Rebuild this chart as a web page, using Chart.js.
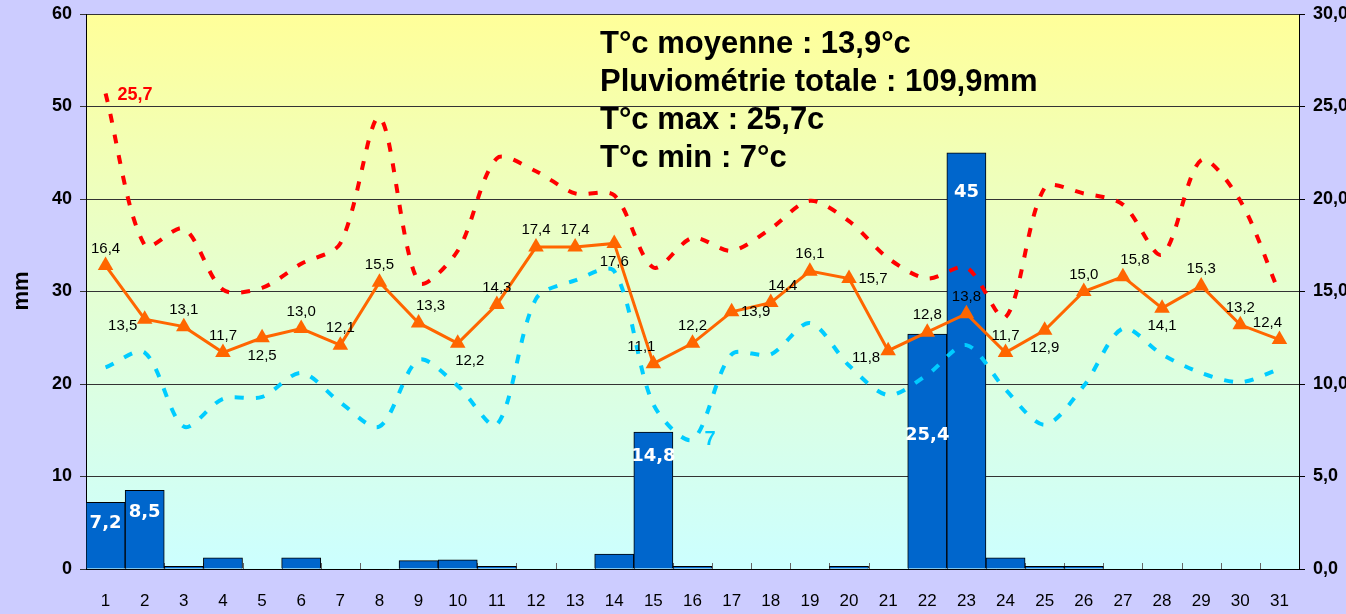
<!DOCTYPE html>
<html>
<head>
<meta charset="utf-8">
<script src="https://cdn.jsdelivr.net/npm/chart.js@4.4.0/dist/chart.umd.min.js"></script>
<style>
  html, body { margin: 0; padding: 0; background: #ccccff; overflow: hidden; }
  #wrap { position: absolute; left: 0; top: 0; width: 1400px; height: 614px; }
</style>
</head>
<body>
<div id="wrap"><canvas id="meteo" width="1400" height="614"></canvas></div>
<script>
// Données du mois
const jours = ['1','2','3','4','5','6','7','8','9','10','11','12','13','14','15','16','17','18','19','20','21','22','23','24','25','26','27','28','29','30','31'];
const pluie = [7.2, 8.5, 0.3, 1.2, 0, 1.2, 0, 0, 0.9, 1.0, 0.3, 0, 0, 1.6, 14.8, 0.3, 0, 0, 0, 0.3, 0, 25.4, 45, 1.2, 0.3, 0.3, 0, 0, 0, 0, 0];
const tMoy = [16.4, 13.5, 13.1, 11.7, 12.5, 13.0, 12.1, 15.5, 13.3, 12.2, 14.3, 17.4, 17.4, 17.6, 11.1, 12.2, 13.9, 14.4, 16.1, 15.7, 11.8, 12.8, 13.8, 11.7, 12.9, 15.0, 15.8, 14.1, 15.3, 13.2, 12.4];
const tMax = [25.7, 17.5, 18.4, 15.1, 15.2, 16.5, 17.6, 24.4, 15.5, 17.2, 22.2, 21.5, 20.3, 20.2, 16.3, 17.9, 17.2, 18.4, 19.9, 18.8, 16.8, 15.7, 16.3, 13.6, 20.6, 20.3, 19.7, 17.0, 22.1, 19.9, 14.9];
const tMin = [10.9, 11.7, 7.7, 9.2, 9.3, 10.6, 9.0, 7.7, 11.3, 9.9, 7.8, 14.6, 15.6, 16.1, 8.9, 7.0, 11.6, 11.6, 13.3, 11.0, 9.4, 10.5, 12.1, 9.7, 7.8, 9.9, 13.0, 11.6, 10.6, 10.1, 10.8];
const ticksMm = [0, 10, 20, 30, 40, 50, 60];
const ticksTemp = [0, 5, 10, 15, 20, 25, 30];
const resume = ['T°c moyenne : 13,9°c', 'Pluviométrie totale : 109,9mm', 'T°c max : 25,7c', 'T°c min : 7°c'];

// position des étiquettes de la moyenne (a=dessus, b=dessous, l=gauche, r=droite)
const placeMoy = ['a','l','a','a','b','a','a','a','ar','br','a','a','a','b','al','a','r','ar','a','r','l','a','a','a','b','a','ar','b','a','a','al'];
// descente des étiquettes de pluie sous le haut de la barre
const descentePluie = { 0: 21, 1: 22, 14: 24, 21: 101, 22: 40 };

const fr = v => v.toFixed(1).replace('.', ',');

const fondPlugin = {
    id: 'fond',
    beforeDraw(chart) {
        const { ctx, chartArea: a } = chart;
        const g = ctx.createLinearGradient(0, a.top, 0, a.bottom);
        g.addColorStop(0, '#ffff99');
        g.addColorStop(0.5, '#e4ffd2');
        g.addColorStop(1, '#ccffff');
        ctx.save();
        ctx.fillStyle = g;
        ctx.fillRect(a.left, a.top, a.right - a.left, a.bottom - a.top);
        ctx.restore();
    },
    beforeDatasetsDraw(chart) {
        // petits traits entre les jours
        const { ctx, chartArea: a, scales } = chart;
        ctx.save();
        ctx.strokeStyle = '#666';
        ctx.lineWidth = 1;
        for (let i = 1; i < jours.length; i++) {
            const x = Math.round((scales.x.getPixelForValue(i - 1) + scales.x.getPixelForValue(i)) / 2) + 0.5;
            ctx.beginPath();
            ctx.moveTo(x, a.bottom);
            ctx.lineTo(x, a.bottom - 6);
            ctx.stroke();
        }
        ctx.restore();
    }
};

const textePlugin = {
    id: 'textes',
    afterDraw(chart) {
        const ctx = chart.ctx;
        ctx.save();
        // titre axe gauche
        ctx.translate(22, 291);
        ctx.rotate(-Math.PI / 2);
        ctx.font = 'bold 22px "Liberation Sans", Arial';
        ctx.fillStyle = '#000';
        ctx.textAlign = 'center';
        ctx.textBaseline = 'middle';
        ctx.fillText('mm', 0, 0);
        ctx.restore();

        // étiquettes des barres
        ctx.save();
        const barres = chart.getDatasetMeta(0).data;
        ctx.font = 'bold 18px "DejaVu Sans"';
        ctx.fillStyle = '#fff';
        ctx.textAlign = 'center';
        ctx.textBaseline = 'middle';
        pluie.forEach((v, i) => {
            if (v < 5) return;
            const b = barres[i];
            const txt = Number.isInteger(v) ? String(v) : fr(v);
            ctx.fillText(txt, b.x, b.y + (descentePluie[i] || 22));
        });
        ctx.restore();

        // étiquettes de la moyenne
        ctx.save();
        const pts = chart.getDatasetMeta(1).data;
        ctx.font = '15px "Liberation Sans", Arial';
        ctx.fillStyle = '#000';
        ctx.textAlign = 'center';
        ctx.textBaseline = 'middle';
        tMoy.forEach((v, i) => {
            const p = pts[i];
            let dx = 0, dy = 0;
            const c = placeMoy[i];
            if (c.includes('a')) dy = -17;
            if (c.includes('b')) dy = 18;
            if (c === 'l') { dx = -22; dy = 7; }
            if (c === 'r') { dx = 24; dy = 0; }
            if (c.length === 2 && c.includes('r')) dx = 12;
            if (c.length === 2 && c.includes('l')) dx = -12;
            ctx.fillText(fr(v), p.x + dx, p.y + dy);
        });
        ctx.restore();

        // max et min du mois
        ctx.save();
        ctx.font = 'bold 18px "Liberation Sans", Arial';
        ctx.textBaseline = 'middle';
        ctx.textAlign = 'left';
        const iMax = tMax.indexOf(Math.max(...tMax));
        const pMax = chart.getDatasetMeta(2).data[iMax];
        ctx.fillStyle = '#ff0000';
        ctx.fillText(fr(tMax[iMax]), pMax.x + 12, pMax.y + 1);
        const iMin = tMin.indexOf(Math.min(...tMin));
        const pMin = chart.getDatasetMeta(3).data[iMin];
        ctx.fillStyle = '#00ccff';
        ctx.font = 'bold 20px "Liberation Sans", Arial';
        ctx.fillText(String(tMin[iMin]), pMin.x + 12, pMin.y);
        ctx.restore();

        // encadré résumé
        ctx.save();
        ctx.font = 'bold 31px "Liberation Sans", Arial';
        ctx.fillStyle = '#000';
        ctx.textBaseline = 'middle';
        resume.forEach((t, i) => ctx.fillText(t, 600, 44 + i * 38));
        ctx.restore();
    }
};

new Chart(document.getElementById('meteo'), {
    data: {
        labels: jours,
        datasets: [
            {
                type: 'bar',
                data: pluie,
                yAxisID: 'y',
                backgroundColor: '#0066cc',
                borderColor: '#000',
                borderWidth: 1,
                barPercentage: 1,
                categoryPercentage: 1,
                order: 4
            },
            {
                type: 'line',
                data: tMoy,
                yAxisID: 'y1',
                borderColor: '#ff6600',
                borderWidth: 3,
                backgroundColor: '#ff6600',
                pointStyle: 'triangle',
                pointRadius: 9,
                pointBorderWidth: 0,
                tension: 0,
                order: 1
            },
            {
                type: 'line',
                data: tMax,
                yAxisID: 'y1',
                borderColor: '#ff0000',
                borderWidth: 4,
                borderDash: [9, 12],
                pointRadius: 0,
                tension: 0.3,
                order: 2
            },
            {
                type: 'line',
                data: tMin,
                yAxisID: 'y1',
                borderColor: '#00ccff',
                borderWidth: 4,
                borderDash: [9, 12],
                pointRadius: 0,
                tension: 0.3,
                order: 3
            }
        ]
    },
    options: {
        responsive: false,
        animation: false,
        layout: { padding: { top: 14 } },
        plugins: {
            legend: { display: false },
            tooltip: { enabled: false }
        },
        scales: {
            x: {
                offset: true,
                grid: { drawOnChartArea: false, drawTicks: false },
                border: { color: '#000', width: 1 },
                ticks: {
                    color: '#000',
                    padding: 22,
                    font: { family: '"Liberation Sans", Arial', size: 17 },
                    maxRotation: 0,
                    autoSkip: false
                },
                afterFit: s => { s.height = 45; }
            },
            y: {
                position: 'left',
                min: 0,
                max: 60,
                afterBuildTicks: s => { s.ticks = ticksMm.map(v => ({ value: v })); },
                grid: { color: '#333', tickLength: 6 },
                border: { color: '#000', width: 1 },
                ticks: {
                    color: '#000',
                    padding: 8,
                    font: { family: '"Liberation Sans", Arial', size: 18, weight: 'bold', lineHeight: 0.5 }
                },
                afterFit: s => { s.width = 86; }
            },
            y1: {
                position: 'right',
                min: 0,
                max: 30,
                afterBuildTicks: s => { s.ticks = ticksTemp.map(v => ({ value: v })); },
                grid: { drawOnChartArea: false, color: '#000', tickLength: 6 },
                border: { color: '#000', width: 1 },
                ticks: {
                    color: '#000',
                    padding: 8,
                    font: { family: '"Liberation Sans", Arial', size: 18, weight: 'bold', lineHeight: 0.5 },
                    callback: v => fr(v)
                },
                afterFit: s => { s.width = 101; }
            }
        }
    },
    plugins: [fondPlugin, textePlugin]
});
</script>
</body>
</html>
